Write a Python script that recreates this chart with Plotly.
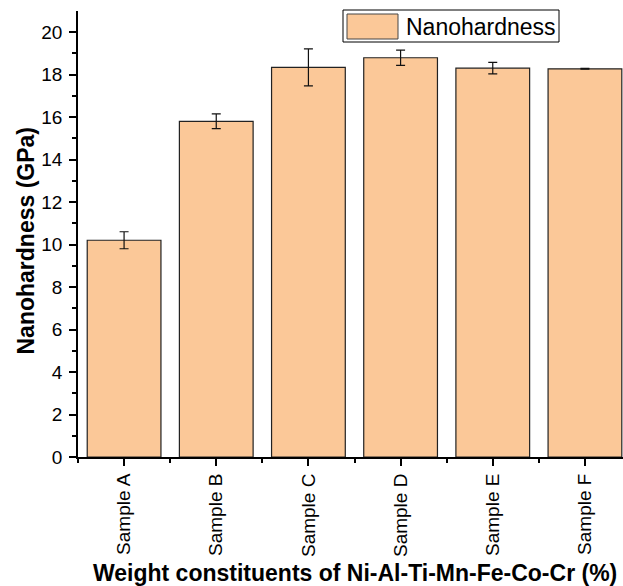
import plotly.graph_objects as go

# Nanohardness of the alloy samples
samples = ["Sample A", "Sample B", "Sample C", "Sample D", "Sample E", "Sample F"]
hardness = [10.2, 15.8, 18.34, 18.79, 18.3, 18.27]
hardness_err = [0.4, 0.35, 0.87, 0.36, 0.27, 0.02]
y_ticks = [0, 2, 4, 6, 8, 10, 12, 14, 16, 18, 20]

positions = list(range(len(samples)))
FONT = "Liberation Sans, Arial, sans-serif"
BAR_FILL = "#FBC898"
BAR_EDGE = "#222222"

W, H = 623, 586
ML, MR, MT, MB = 78, 0, 11, 129
PW, PH = W - ML - MR, H - MT - MB


def px_x(px):
    return (px - ML) / PW


def px_y(py):
    return (H - MB - py) / PH


fig = go.Figure()
fig.add_trace(go.Bar(
    x=positions,
    y=hardness,
    width=0.8,
    name="Nanohardness",
    marker=dict(color=BAR_FILL, line=dict(color=BAR_EDGE, width=1.2)),
    error_y=dict(type="data", array=hardness_err, visible=True,
                 color="#111111", thickness=1.2, width=4.5),
    showlegend=False,
))

# legend box drawn by hand so the swatch can be large
fig.add_shape(type="rect", xref="paper", yref="paper",
              x0=px_x(343), x1=px_x(559), y0=px_y(42), y1=px_y(10),
              line=dict(color="black", width=1), fillcolor="white", layer="above")
fig.add_shape(type="rect", xref="paper", yref="paper",
              x0=px_x(347), x1=px_x(398), y0=px_y(39), y1=px_y(14),
              line=dict(color="#444444", width=1), fillcolor=BAR_FILL, layer="above")
fig.add_annotation(xref="paper", yref="paper", x=px_x(404), y=px_y(26.5),
                   xanchor="left", yanchor="middle", showarrow=False,
                   text="Nanohardness", font=dict(size=23, family=FONT, color="black"))

# axis titles
fig.add_annotation(xref="paper", yref="paper", x=px_x(25.5), y=px_y(241),
                   xanchor="center", yanchor="middle", showarrow=False, textangle=-90,
                   text="<b>Nanohardness (GPa)</b>",
                   font=dict(size=23, family=FONT, color="black"))
fig.add_annotation(xref="paper", yref="paper", x=px_x(355), y=px_y(573),
                   xanchor="center", yanchor="middle", showarrow=False,
                   text="<b>Weight constituents of Ni-Al-Ti-Mn-Fe-Co-Cr (%)</b>",
                   font=dict(size=23, family=FONT, color="black"))

fig.update_layout(
    width=W, height=H,
    margin=dict(l=ML, r=MR, t=MT, b=MB),
    plot_bgcolor="white", paper_bgcolor="white",
    font=dict(family=FONT, color="black", size=19),
    showlegend=False,
    xaxis=dict(
        range=[-0.5, 5.413],
        tickmode="array", tickvals=positions, ticktext=samples,
        tickangle=-90,
        ticks="outside", ticklen=7, tickwidth=1.5, tickcolor="black",
        minor=dict(tickmode="linear", tick0=0.5, dtick=1, ticks="outside",
                   ticklen=4, tickwidth=1.5, tickcolor="black"),
        showline=True, linecolor="black", linewidth=2,
        showgrid=False, zeroline=False,
        tickfont=dict(size=19, family=FONT),
        automargin=False,
    ),
    yaxis=dict(
        range=[0, 20.99],
        tickmode="array", tickvals=y_ticks,
        ticks="outside", ticklen=7, tickwidth=1.5, tickcolor="black",
        minor=dict(tickmode="linear", tick0=1, dtick=2, ticks="outside",
                   ticklen=4, tickwidth=1.5, tickcolor="black"),
        showline=True, linecolor="black", linewidth=1.5,
        showgrid=False, zeroline=False,
        tickfont=dict(size=19, family=FONT),
        ticklabelstandoff=3,
        automargin=False,
    ),
)

fig.write_html("out.html")
